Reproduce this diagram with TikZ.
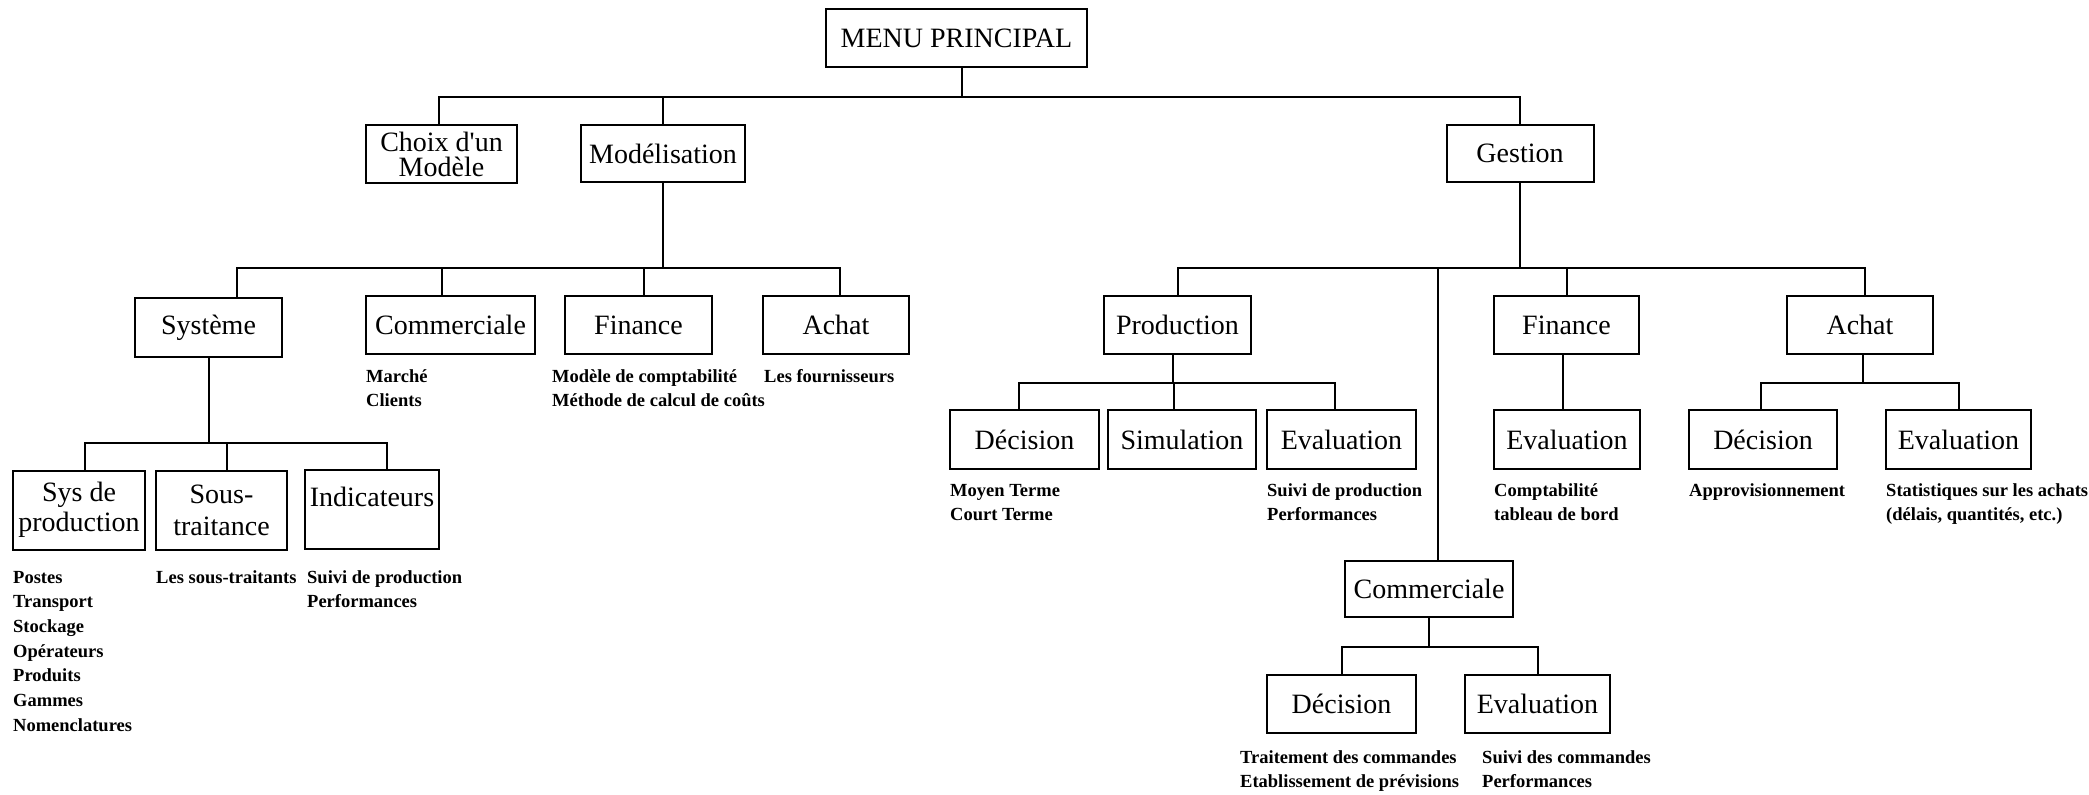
\documentclass[tikz,border=0pt]{standalone}
\usepackage{fontspec}
\setmainfont{Liberation Serif}
\begin{document}
\begin{tikzpicture}[x=1pt,y=-1pt,
  box/.style={draw, line width=2pt, inner sep=0pt, align=center, font=\fontsize{28}{30}\selectfont},
  wh/.style 2 args={minimum width=#1pt, minimum height=#2pt},
  lbl/.style={anchor=base west, inner sep=0pt, align=left, font=\fontsize{18.5}{24.7}\selectfont\bfseries},
  conn/.style={line width=2pt}]
\useasboundingbox (0,0) rectangle (2089,795);

% bus levels
\coordinate (b1) at (0,97);
\coordinate (b2) at (0,268);
\coordinate (b3) at (0,443);
\coordinate (b4) at (0,383);
\coordinate (b5) at (0,647);

% level 0/1
\node[box,wh={261}{58}] (menu) at (956.5,38) {MENU PRINCIPAL};
\node[box,wh={151}{58},font=\fontsize{28}{25}\selectfont] (choix) at (441.5,154) {Choix d\textquotesingle un\\Modèle};
\node[box,wh={164}{57}] (modl) at (663,153.5) {Modélisation};
\node[box,wh={147}{57}] (gest) at (1520,153.5) {Gestion};

% level 2 left
\node[box,wh={147}{59}] (sys) at (208.5,327.5) {Système};
\node[box,wh={169}{58}] (comL) at (450.5,325) {Commerciale};
\node[box,wh={147}{58}] (finL) at (638.5,325) {Finance};
\node[box,wh={146}{58}] (achL) at (836,325) {Achat};

% level 3 left
\node[box,wh={132}{79}] (sysp) at (79,510) {Sys de\\production};
\node[box,wh={131}{79},font=\fontsize{28}{32}\selectfont] (sous) at (221.5,510) {Sous-\\traitance};
\node[box,wh={134}{79},font=\fontsize{28}{24}\selectfont] (ind) at (372,509) {Indicateurs\\\mbox{}};

% level 2 right
\node[box,wh={147}{58}] (prod) at (1177.5,325) {Production};
\node[box,wh={145}{58}] (finR) at (1566.5,325) {Finance};
\node[box,wh={146}{58}] (achR) at (1860,325) {Achat};

% level 3 right
\node[box,wh={149}{59}] (decP) at (1024.5,439.5) {Décision};
\node[box,wh={148}{59}] (sim) at (1182,439.5) {Simulation};
\node[box,wh={149}{59}] (evP) at (1341.5,439.5) {Evaluation};
\node[box,wh={146}{59}] (evF) at (1567,439.5) {Evaluation};
\node[box,wh={148}{59}] (decA) at (1763,439.5) {Décision};
\node[box,wh={145}{59}] (evA) at (1958.5,439.5) {Evaluation};

% commerciale (gestion)
\node[box,wh={168}{56}] (comR) at (1429,589) {Commerciale};
\node[box,wh={149}{58}] (decC) at (1341.5,704) {Décision};
\node[box,wh={145}{58}] (evC) at (1537.5,704) {Evaluation};

% connectors
\draw[conn] ([xshift=5pt]menu.south) -- ([xshift=5pt]menu.south |- b1) -| ([xshift=-3pt]choix.north);
\draw[conn] ([xshift=5pt]menu.south |- b1) -| (modl.north);
\draw[conn] ([xshift=5pt]menu.south |- b1) -| (gest.north);

\draw[conn] (modl.south) -- (modl.south |- b2) -| ([xshift=28.5pt]sys.north);
\draw[conn] (modl.south |- b2) -| ([xshift=-8.5pt]comL.north);
\draw[conn] (modl.south |- b2) -| ([xshift=5.5pt]finL.north);
\draw[conn] (modl.south |- b2) -| ([xshift=4pt]achL.north);

\draw[conn] (sys.south) -- (sys.south |- b3) -| ([xshift=6pt]sysp.north);
\draw[conn] (sys.south |- b3) -| ([xshift=5.5pt]sous.north);
\draw[conn] (sys.south |- b3) -| ([xshift=15pt]ind.north);

\draw[conn] (gest.south) -- (gest.south |- b2) -| (prod.north);
\draw[conn] (gest.south |- b2) -| ([xshift=9pt]comR.north);
\draw[conn] (gest.south |- b2) -| (finR.north);
\draw[conn] (gest.south |- b2) -| ([xshift=5pt]achR.north);

\draw[conn] ([xshift=-4.5pt]prod.south) -- ([xshift=-4.5pt]prod.south |- b4) -| ([xshift=-5.5pt]decP.north);
\draw[conn] ([xshift=-4.5pt]prod.south |- b4) -| ([xshift=-8pt]sim.north);
\draw[conn] ([xshift=-4.5pt]prod.south |- b4) -| ([xshift=-6.5pt]evP.north);

\draw[conn] ([xshift=-4pt]finR.south) -- ([xshift=-4pt]finR.south |- evF.north);

\draw[conn] ([xshift=3pt]achR.south) -- ([xshift=3pt]achR.south |- b4) -| ([xshift=-2pt]decA.north);
\draw[conn] ([xshift=3pt]achR.south |- b4) -| (evA.north);

\draw[conn] (comR.south) -- (comR.south |- b5) -| (decC.north);
\draw[conn] (comR.south |- b5) -| (evC.north);

% labels (anchored at the baseline of their last line)
\node[lbl] (lComL) at (366,406.7) {Marché\\Clients};
\node[lbl] (lFinL) at (552,406.7) {Modèle de comptabilité\\Méthode de calcul de coûts};
\node[lbl] (lAchL) at (764,382) {Les fournisseurs};
\node[lbl] (lSysp) at (13,731.2) {Postes\\Transport\\Stockage\\Opérateurs\\Produits\\Gammes\\Nomenclatures};
\node[lbl] (lSous) at (156,583) {Les sous-traitants};
\node[lbl] (lInd) at (307,607.7) {Suivi de production\\Performances};
\node[lbl] (lDecP) at (950,520.7) {Moyen Terme\\Court Terme};
\node[lbl] (lEvP) at (1267,520.7) {Suivi de production\\Performances};
\node[lbl] (lEvF) at (1494,520.7) {Comptabilité\\tableau de bord};
\node[lbl] (lDecA) at (1689,496) {Approvisionnement};
\node[lbl] (lEvA) at (1886,520.7) {Statistiques sur les achats\\(délais, quantités, etc.)};
\node[lbl] (lDecC) at (1240,787.7) {Traitement des commandes\\Etablissement de prévisions};
\node[lbl] (lEvC) at (1482,787.7) {Suivi des commandes\\Performances};
\end{tikzpicture}
\end{document}
